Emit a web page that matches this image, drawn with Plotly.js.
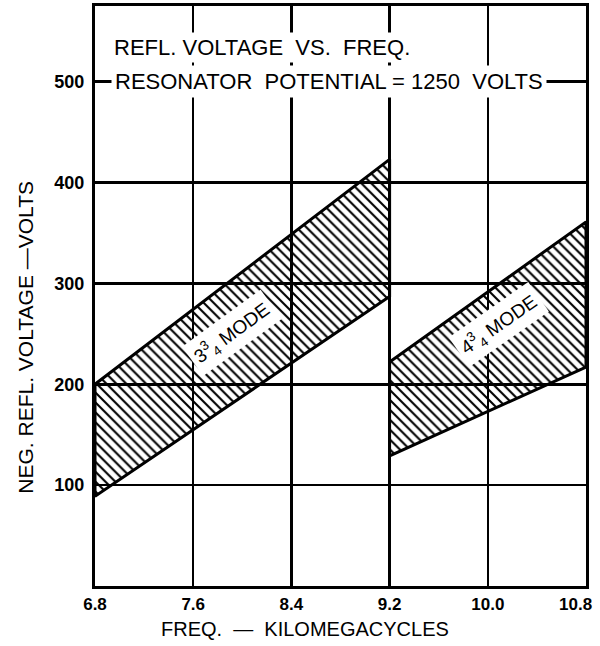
<!DOCTYPE html>
<html>
<head>
<meta charset="utf-8">
<script src="https://cdn.plot.ly/plotly-3.0.1.min.js"></script>
<style>
html,body{margin:0;padding:0;background:#fff;}
#chart{width:600px;height:646px;}
</style>
</head>
<body>
<div id="chart"></div>
<script>
// ---- data ----
const freqTicks = [6.8, 7.6, 8.4, 9.2, 10.0, 10.8];
const freqTickText = ['6.8', '7.6', '8.4', '9.2', '10.0', '10.8'];
const voltTicks = [100, 200, 300, 400, 500];
const voltTickText = ['100', '200', '300', '400', '500'];

const mode3Freq = [6.8, 9.2];
const mode3Upper = [200, 423];
const mode3Lower = [89, 287];

const mode4Freq = [9.2, 10.8];
const mode4Upper = [222, 361];
const mode4Lower = [129, 217];

const titleLine1 = 'REFL. VOLTAGE  VS.  FREQ.';
const titleLine2 = 'RESONATOR  POTENTIAL = 1250  VOLTS';
const xTitle = 'FREQ.  —  KILOMEGACYCLES';
const yTitle = 'NEG. REFL. VOLTAGE —VOLTS';
const mode3Label = '3<sup>3</sup><sub>4</sub> MODE';
const mode4Label = '4<sup>3</sup><sub>4</sub> MODE';
const mode3LabelPos = [7.92, 251];
const mode4LabelPos = [10.09, 259];

// ---- build band polygons ----
function band(f, up, lo) {
  return {
    x: [f[0], f[1], f[1], f[0], f[0]],
    y: [up[0], up[1], lo[1], lo[0], up[0]]
  };
}
const b3 = band(mode3Freq, mode3Upper, mode3Lower);
const b4 = band(mode4Freq, mode4Upper, mode4Lower);

const FONT = 'Liberation Sans, Arial, sans-serif';
const tickFontX = {family: FONT, size: 17, weight: 'bold', color: '#000'};

function bandTrace(b, name) {
  return {
    type: 'scatter', mode: 'lines', name: name,
    x: b.x, y: b.y,
    fill: 'toself',
    fillcolor: 'rgba(255,255,255,0)',
    fillpattern: {shape: '\\', size: 7, solidity: 0.3, fgcolor: '#000', bgcolor: 'rgba(255,255,255,0)', fillmode: 'replace'},
    line: {color: '#000', width: 3},
    hoverinfo: 'skip', showlegend: false
  };
}

const traces = [bandTrace(b3, '3 3/4 mode'), bandTrace(b4, '4 3/4 mode')];

const axisCommon = {
  showline: true, linecolor: '#000', linewidth: 3, mirror: true,
  showgrid: true, gridcolor: '#000', gridwidth: 2.5,
  zeroline: false, ticks: '', fixedrange: true
};

// last x tick label is drawn as an annotation so it can sit flush with the right edge
const lastIdx = freqTicks.length - 1;
const axisTickText = freqTickText.map((t, i) => (i === lastIdx ? '' : t));

const layout = {
  width: 600, height: 646,
  margin: {l: 95, r: 14, t: 6, b: 60},
  paper_bgcolor: '#fff', plot_bgcolor: '#fff',
  showlegend: false,
  xaxis: Object.assign({}, axisCommon, {
    range: [6.8, 10.8],
    tickmode: 'array', tickvals: freqTicks, ticktext: axisTickText,
    tickfont: tickFontX,
    ticklabelstandoff: 1
  }),
  yaxis: Object.assign({}, axisCommon, {
    range: [0, 575],
    tickmode: 'array', tickvals: voltTicks, ticktext: voltTickText,
    tickfont: {family: FONT, size: 18, weight: 'bold', color: '#000'},
    ticklabelstandoff: 4
  }),
  annotations: [
    {xref: 'x', yref: 'paper', x: freqTicks[lastIdx], y: 0, xanchor: 'right', yanchor: 'top',
     xshift: 8, yshift: -7, text: freqTickText[lastIdx], showarrow: false, font: tickFontX},
    {xref: 'paper', yref: 'paper', x: 0.033, y: 0.928, xanchor: 'left', yanchor: 'middle',
     text: titleLine1, showarrow: false, bgcolor: '#fff', borderpad: 2,
     font: {family: FONT, size: 22, color: '#000'}},
    {xref: 'paper', yref: 'paper', x: 0.033, y: 0.869, xanchor: 'left', yanchor: 'middle',
     text: titleLine2, showarrow: false, bgcolor: '#fff', borderpad: 3,
     font: {family: FONT, size: 22, color: '#000'}},
    {xref: 'paper', yref: 'paper', x: 0.427, y: -0.074, xanchor: 'center', yanchor: 'middle',
     text: xTitle, showarrow: false,
     font: {family: FONT, size: 20, color: '#000'}},
    {xref: 'paper', yref: 'paper', x: -0.142, y: 0.4286, xanchor: 'center', yanchor: 'middle',
     text: yTitle, showarrow: false, textangle: -90,
     font: {family: FONT, size: 21, color: '#000'}},
    {xref: 'x', yref: 'y', x: mode3LabelPos[0], y: mode3LabelPos[1],
     text: mode3Label, showarrow: false, textangle: -36, bgcolor: '#fff', borderpad: 4,
     font: {family: FONT, size: 19, color: '#000'}},
    {xref: 'x', yref: 'y', x: mode4LabelPos[0], y: mode4LabelPos[1],
     text: mode4Label, showarrow: false, textangle: -35, bgcolor: '#fff', borderpad: 4,
     font: {family: FONT, size: 19, color: '#000'}}
  ]
};

Plotly.newPlot('chart', traces, layout, {displayModeBar: false, staticPlot: true});
</script>
</body>
</html>
